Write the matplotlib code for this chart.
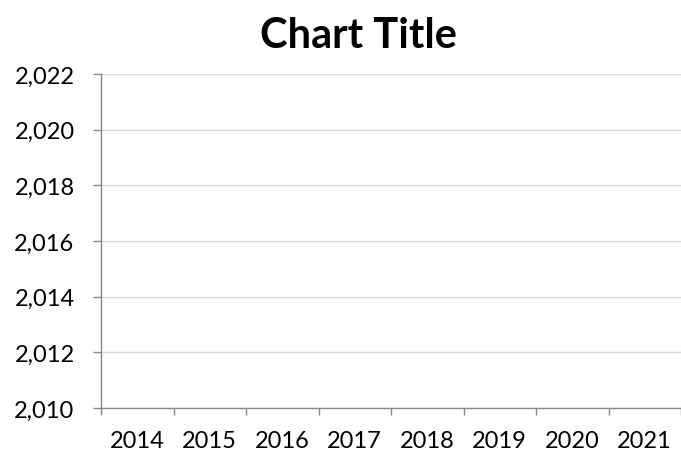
import matplotlib
matplotlib.use('Agg')
import matplotlib.pyplot as plt
import numpy as np

# Chart data (the series in the source chart is empty)
years = ['2014', '2015', '2016', '2017', '2018', '2019', '2020', '2021']
values = [np.nan] * len(years)
yTicks = [2010, 2012, 2014, 2016, 2018, 2020, 2022]
title = 'Chart Title'

plt.rcParams['font.family'] = ['Lato', 'DejaVu Sans']

fig = plt.figure(figsize=(6.81, 4.52), dpi=100)
ax = fig.add_axes([101 / 681, 1 - 409 / 452, 1 - 101 / 681, (409 - 75) / 452])

x = np.arange(len(years)) + 0.5
ax.plot(x, values, color='#4472c4', linewidth=2.25)

ax.set_xlim(0, len(years))
ax.set_ylim(yTicks[0], yTicks[-1])

# category boundaries get the tick marks, centres get the labels
ax.set_xticks(np.arange(len(years) + 1))
ax.set_xticklabels([])
ax.set_xticks(x, minor=True)
ax.set_xticklabels(years, minor=True, fontsize=17)
ax.tick_params(axis='x', which='major', length=5, width=1, color='#888888', direction='out')
ax.tick_params(axis='x', which='minor', length=0, pad=15.5)

ax.set_yticks(yTicks)
ax.set_yticklabels(['{:,}'.format(v) for v in yTicks], fontsize=17)
ax.tick_params(axis='y', length=6, width=1, color='#888888', pad=13)

ax.grid(axis='y', color='#d9d9d9', linewidth=1)
ax.set_axisbelow(True)
for side in ['top', 'right']:
    ax.spines[side].set_visible(False)
for side in ['left', 'bottom']:
    ax.spines[side].set_color('#888888')
    ax.spines[side].set_linewidth(1)

fig.text(358 / 681, 1 - 48 / 452, title, ha='center', va='baseline', fontsize=30, fontweight='bold')

fig.savefig('out.png', dpi=100)
